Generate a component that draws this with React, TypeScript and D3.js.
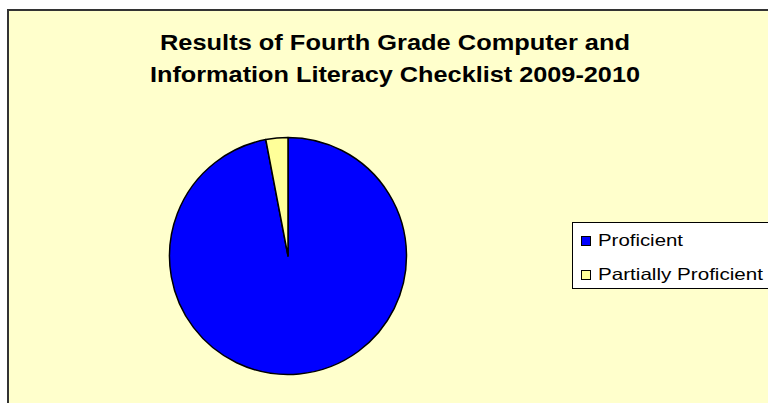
import React from "react";
import * as d3 from "d3";

const categories = ["Proficient", "Partially Proficient"];
const values = [97, 3];
const colors = ["#0000FF", "#FFFF99"];
const titleLines = ["Results of Fourth Grade Computer and", "Information Literacy Checklist 2009-2010"];

export default function App() {
  const W = 768, H = 403;
  const cx = 288, cy = 256, r = 118.5;
  const pie = d3.pie<number>().sort(null).startAngle(0).endAngle(2 * Math.PI);
  const arcs = pie(values);
  const arc = d3.arc<d3.PieArcDatum<number>>().innerRadius(0).outerRadius(r);
  const titleLens = [470, 490];
  const titleY = [50, 82];
  const legendLens = [85, 165];
  const legendY = [246, 280];
  return (
    <svg width={W} height={H} style={{ position: "absolute", left: 0, top: 0, display: "block" }}>
      <rect x={0} y={0} width={W} height={H} fill="#ffffff" />
      <rect x={8} y={10} width={W + 20} height={H + 20} fill="#FFFFCC" stroke="#333333" strokeWidth={2} />
      {titleLines.map((t, i) => (
        <text key={t} x={395} y={titleY[i]} textAnchor="middle" fontFamily="'Liberation Sans', Arial, sans-serif"
          fontWeight="bold" fontSize={22} textLength={titleLens[i]} lengthAdjust="spacingAndGlyphs" fill="#000">
          {t}
        </text>
      ))}
      <g transform={`translate(${cx},${cy})`}>
        {arcs.map((a, i) => (
          <path key={i} d={arc(a) || ""} fill={colors[i]} stroke="#000" strokeWidth={1.5} strokeLinejoin="round" />
        ))}
      </g>
      <rect x={572.5} y={222.5} width={220} height={66} fill="#ffffff" stroke="#000" strokeWidth={1} />
      {categories.map((c, i) => (
        <g key={c}>
          <rect x={581.5} y={legendY[i] - 9.5} width={9} height={9} fill={colors[i]} stroke="#000" strokeWidth={1} />
          <text x={598} y={legendY[i]} fontFamily="'Liberation Sans', Arial, sans-serif" fontSize={16.5}
            textLength={legendLens[i]} lengthAdjust="spacingAndGlyphs" fill="#000">
            {c}
          </text>
        </g>
      ))}
    </svg>
  );
}
